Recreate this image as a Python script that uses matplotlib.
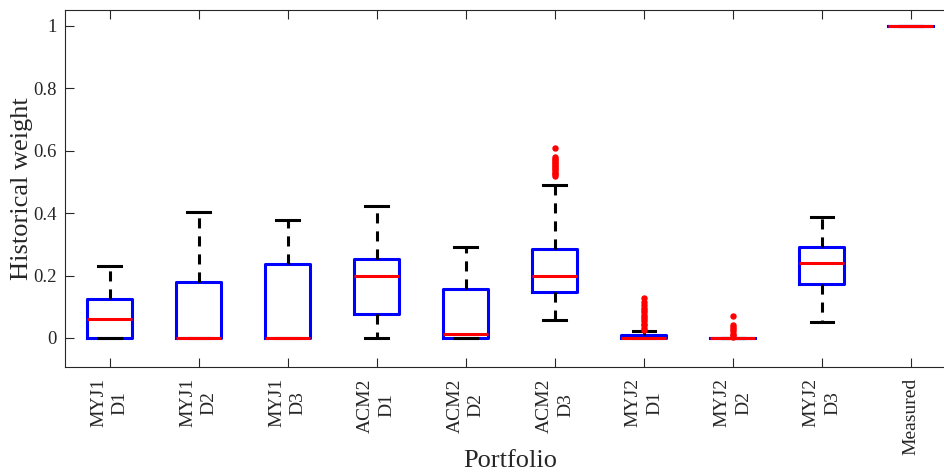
import matplotlib
matplotlib.use("Agg")
import matplotlib.pyplot as plt

# ── portfolio weight summaries ───────────────────────────────────────────────
portfolios = ["MYJ1\nD1", "MYJ1\nD2", "MYJ1\nD3",
              "ACM2\nD1", "ACM2\nD2", "ACM2\nD3",
              "MYJ2\nD1", "MYJ2\nD2", "MYJ2\nD3", "Measured"]

q1       = [0.000, 0.000, 0.000, 0.077, 0.000, 0.146, 0.000, 0.000, 0.173, 1.0]
median   = [0.061, 0.000, 0.000, 0.200, 0.013, 0.198, 0.001, 0.000, 0.240, 1.0]
q3       = [0.125, 0.180, 0.237, 0.253, 0.157, 0.285, 0.010, 0.000, 0.290, 1.0]
whis_lo  = [0.000, 0.000, 0.000, 0.000, 0.000, 0.057, 0.000, 0.000, 0.052, 1.0]
whis_hi  = [0.232, 0.404, 0.379, 0.424, 0.292, 0.490, 0.021, 0.000, 0.389, 1.0]

outliers = [
    [], [], [], [], [],
    [0.610, 0.580, 0.575, 0.570, 0.565, 0.560, 0.555, 0.550,
     0.545, 0.540, 0.535, 0.530, 0.525, 0.520],
    [0.127, 0.115, 0.105, 0.097, 0.090, 0.082, 0.075, 0.068,
     0.060, 0.053, 0.046, 0.040, 0.033, 0.027],
    [0.071, 0.042, 0.035, 0.028, 0.021, 0.014, 0.008, 0.004],
    [], [],
]

yticks = [0, 0.2, 0.4, 0.6, 0.8, 1]
ytick_labels = ["0", "0.2", "0.4", "0.6", "0.8", "1"]

plt.rcParams["font.family"] = ["Liberation Serif", "DejaVu Serif"]

fig = plt.figure(figsize=(9.45, 4.72), dpi=100, facecolor="white")
ax = fig.add_axes([0.0688, 0.2225, 0.942, 0.7563])

stats = [dict(med=m, q1=a, q3=b, whislo=lo, whishi=hi, fliers=f)
         for m, a, b, lo, hi, f in zip(median, q1, q3, whis_lo, whis_hi, outliers)]

LW = 2.2
ax.bxp(stats, positions=range(1, len(stats) + 1), widths=0.5, capwidths=0.25,
       showfliers=True,
       boxprops=dict(color="#0000ff", linewidth=LW),
       medianprops=dict(color="#ff0000", linewidth=LW),
       whiskerprops=dict(color="black", linewidth=LW, linestyle=(0, (3.3, 2.6))),
       capprops=dict(color="black", linewidth=LW),
       flierprops=dict(marker="o", markersize=3.6, markerfacecolor="#ff0000",
                       markeredgecolor="#ff0000", linestyle="none"))

ax.set_xlim(0.5, 10.5)
ax.set_ylim(-0.093, 1.051)
ax.set_yticks(yticks)
ax.set_yticklabels(ytick_labels, fontsize=13.5, color="#262626")
ax.set_xticks(range(1, len(portfolios) + 1))
ax.set_xticklabels(portfolios, rotation=90, fontsize=14, color="#262626",
                   ha="center", va="top", linespacing=1.35)

ax.tick_params(direction="in", length=6.5, width=0.8, top=True, right=True,
               colors="#262626")
ax.tick_params(axis="x", pad=8)
ax.tick_params(axis="y", pad=6)
for sp in ax.spines.values():
    sp.set_color("#262626")
    sp.set_linewidth(0.8)

ax.set_ylabel("Historical weight", fontsize=19, color="#262626", va="center")
ax.yaxis.set_label_coords(-0.048, 0.5)
ax.set_xlabel("Portfolio", fontsize=19, color="#262626", va="center")
ax.xaxis.set_label_coords(0.5, -0.263)

fig.savefig("out.png", dpi=100)
